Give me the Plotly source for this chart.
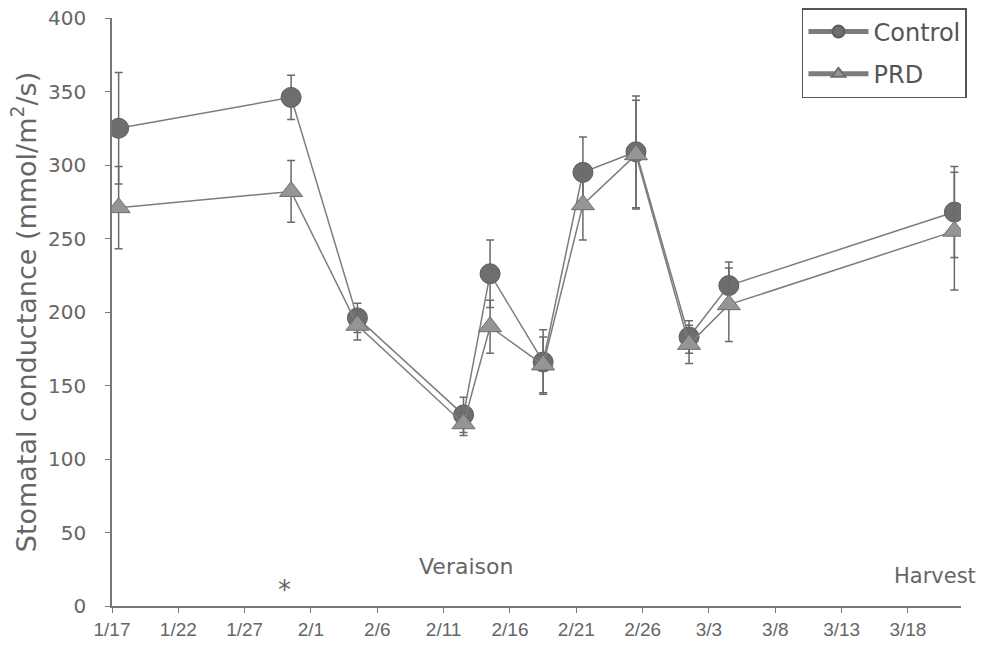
import plotly.graph_objects as go

# Data
dates = ["2005-01-17 12:00", "2005-01-30 12:00", "2005-02-04 12:00", "2005-02-12 12:00",
         "2005-02-14 12:00", "2005-02-18 12:00", "2005-02-21 12:00", "2005-02-25 12:00",
         "2005-03-01 12:00", "2005-03-04 12:00", "2005-03-21 12:00"]
control = [325, 346, 196, 130, 226, 166, 295, 309, 183, 218, 268]
control_err = [38, 15, 10, 12, 23, 22, 24, 38, 11, 16, 31]
prd = [271, 282, 191, 124, 190, 164, 273, 307, 178, 205, 255]
prd_err = [28, 21, 10, 8, 18, 19, 24, 37, 13, 25, 40]

tick_dates = ["2005-01-17", "2005-01-22", "2005-01-27", "2005-02-01", "2005-02-06",
              "2005-02-11", "2005-02-16", "2005-02-21", "2005-02-26", "2005-03-03",
              "2005-03-08", "2005-03-13", "2005-03-18"]
tick_labels = ["1/17", "1/22", "1/27", "2/1", "2/6", "2/11", "2/16", "2/21",
               "2/26", "3/3", "3/8", "3/13", "3/18"]
y_ticks = [0, 50, 100, 150, 200, 250, 300, 350, 400]

line_col = "#7c7c7c"
font_col = "#666666"
wide_font = "DejaVu Sans, Verdana, sans-serif"

fig = go.Figure()
fig.add_trace(go.Scatter(
    x=dates, y=control, name="Control", mode="lines+markers", legendgroup="c",
    line=dict(color=line_col, width=1.5),
    marker=dict(symbol="circle", size=20, color="#6e6e6e", line=dict(color="#5c5c5c", width=1)),
    error_y=dict(type="data", array=control_err, color="#6a6a6a", thickness=1.5, width=4),
))
fig.add_trace(go.Scatter(
    x=dates, y=prd, name="PRD", mode="lines+markers", legendgroup="p",
    line=dict(color=line_col, width=1.5),
    marker=dict(symbol="triangle-up", size=20, color="#959595", line=dict(color="#6e6e6e", width=1)),
    error_y=dict(type="data", array=prd_err, color="#6a6a6a", thickness=1.5, width=4),
))

fig.update_layout(
    width=984, height=654,
    margin=dict(l=112, r=23, t=18, b=48, autoexpand=False),
    paper_bgcolor="white", plot_bgcolor="white",
    font=dict(family="Liberation Sans, Arial, sans-serif", color=font_col),
    showlegend=True,
    legend=dict(
        x=0.8127, y=1.017, xanchor="left", yanchor="top",
        bordercolor="#555555", borderwidth=1.5, bgcolor="white",
        font=dict(size=24, color="#555555", family=wide_font),
        itemsizing="constant", traceorder="grouped", tracegroupgap=8,
        itemwidth=60,
    ),
    xaxis=dict(
        type="date", range=["2005-01-17", "2005-03-22"],
        tickmode="array", tickvals=tick_dates, ticktext=tick_labels,
        showgrid=False, zeroline=False,
        showline=True, linecolor="#777777", linewidth=1.5,
        ticks="outside", ticklen=5, tickcolor="#777777", tickwidth=1.2,
        tickfont=dict(size=19, color=font_col),
        ticklabeloverflow="allow",
    ),
    yaxis=dict(
        range=[0, 400], tickvals=y_ticks,
        showgrid=False, zeroline=False,
        showline=True, linecolor="#777777", linewidth=1.5,
        ticks="outside", ticklen=5, tickcolor="#777777", tickwidth=1.2,
        tickfont=dict(size=20, color=font_col, family=wide_font),
        ticklabelstandoff=15, ticklabeloverflow="allow",
        title=dict(text="Stomatal conductance (mmol/m<sup>2</sup>/s)",
                   font=dict(size=27, color=font_col, family=wide_font), standoff=4),
    ),
)

fig.add_annotation(xref="paper", yref="paper", x=0.2026, y=0.027, text="*",
                   xanchor="center", yanchor="middle",
                   showarrow=False, font=dict(size=26, color=font_col, family=wide_font))
fig.add_annotation(xref="paper", yref="paper", x=0.417, y=0.068, text="Veraison",
                   xanchor="center", yanchor="middle",
                   showarrow=False, font=dict(size=22, color=font_col, family=wide_font))
fig.add_annotation(xref="paper", yref="paper", x=1.0195, y=0.051, text="Harvest",
                   xanchor="right", yanchor="middle",
                   showarrow=False, font=dict(size=21, color=font_col, family=wide_font))

fig.write_html("out.html", config={"displayModeBar": False},
               post_script="document.body.style.margin='0';document.body.style.overflow='hidden';")
